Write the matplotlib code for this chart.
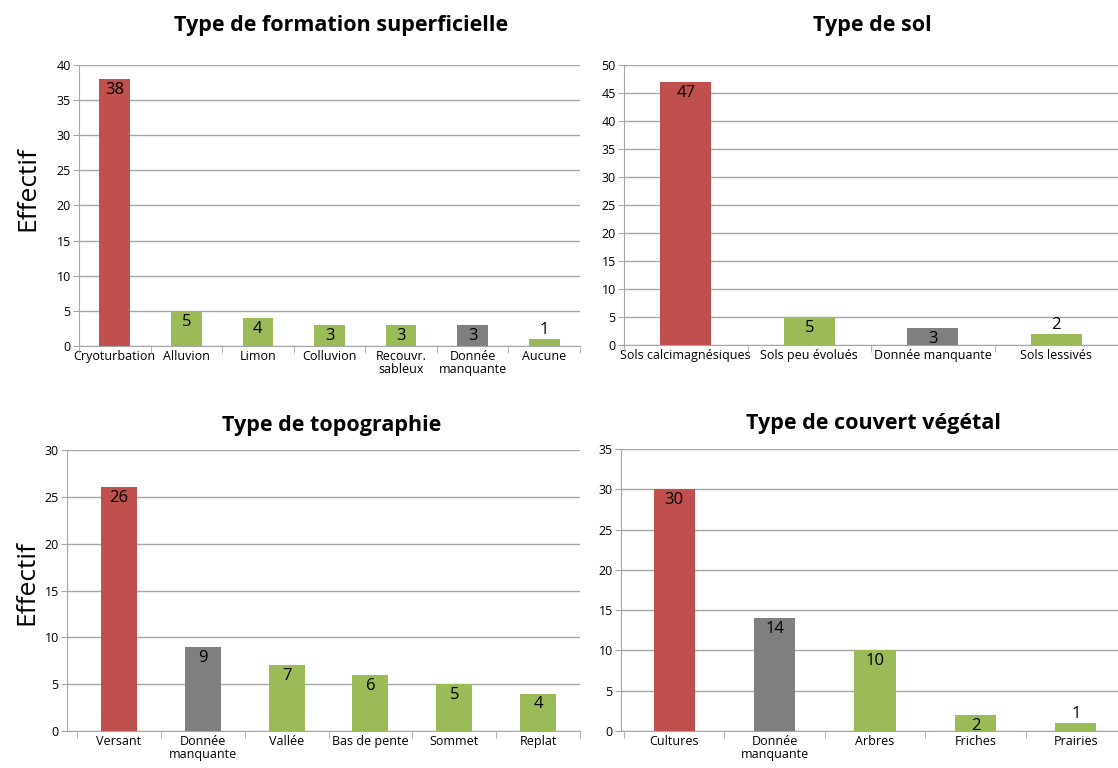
import numpy as np
import matplotlib.pyplot as plt

plt.rcParams['font.family'] = ['Open Sans', 'DejaVu Sans']

RED = "#C0504D"
GREEN = "#9BBB59"
GREY = "#7F7F7F"

# Type de formation superficielle
form_labels = ["Cryoturbation", "Alluvion", "Limon", "Colluvion", "Recouvr.\nsableux", "Donnée\nmanquante", "Aucune"]
form_values = [38, 5, 4, 3, 3, 3, 1]
form_colors = [RED, GREEN, GREEN, GREEN, GREEN, GREY, GREEN]

# Type de sol
sol_labels = ["Sols calcimagnésiques", "Sols peu évolués", "Donnée manquante", "Sols lessivés"]
sol_values = [47, 5, 3, 2]
sol_colors = [RED, GREEN, GREY, GREEN]

# Type de topographie
topo_labels = ["Versant", "Donnée\nmanquante", "Vallée", "Bas de pente", "Sommet", "Replat"]
topo_values = [26, 9, 7, 6, 5, 4]
topo_colors = [RED, GREY, GREEN, GREEN, GREEN, GREEN]

# Type de couvert végétal
couv_labels = ["Cultures", "Donnée\nmanquante", "Arbres", "Friches", "Prairies"]
couv_values = [30, 14, 10, 2, 1]
couv_colors = [RED, GREY, GREEN, GREEN, GREEN]

fig = plt.figure(figsize=(11.18, 7.68), dpi=100)
W, H = 1118, 768


def make_ax(l, t, r, b):
    return fig.add_axes([l / W, 1 - b / H, (r - l) / W, (b - t) / H])


def draw(ax, labels, values, colors, ymax, width, xleft=-0.5):
    x = np.arange(len(labels))
    ax.bar(x, values, width=width, color=colors, zorder=3)
    ax.set_xlim(xleft, len(labels) - 0.5)
    ax.set_ylim(0, ymax)
    ax.set_yticks(np.arange(0, ymax + 1, 5))
    ax.yaxis.grid(True, color="#A6A6A6", lw=1, zorder=0)
    ax.tick_params(axis="y", labelsize=9, length=4, color="#A6A6A6", pad=2)
    ax.set_xticks(x)
    ax.set_xticklabels(labels, fontsize=9, linespacing=0.95)
    ax.tick_params(axis="x", length=0, pad=3)
    ax.set_xticks(np.arange(-0.5, len(labels)), minor=True)
    ax.tick_params(axis="x", which="minor", length=5, color="#A6A6A6")
    for s in ["top", "right"]:
        ax.spines[s].set_visible(False)
    for s in ["left", "bottom"]:
        ax.spines[s].set_color("#A6A6A6")
    for xi, v in zip(x, values):
        if v / ymax < 0.05:
            ax.text(xi, v + ymax * 0.004, str(v), ha="center", va="bottom", fontsize=12)
        else:
            ax.text(xi, v - ymax * 0.01, str(v), ha="center", va="top", fontsize=12)


ax1 = make_ax(79, 65, 580, 346)
draw(ax1, form_labels, form_values, form_colors, 40, 0.43)
ax1.set_ylabel("Effectif", fontsize=19)
ax1.yaxis.set_label_coords(-0.078, 0.56)
fig.text(341 / W, 1 - 25 / H, "Type de formation superficielle", ha="center", va="center",
         fontsize=15.5, fontweight="bold")

ax2 = make_ax(624, 65, 1118, 345)
draw(ax2, sol_labels, sol_values, sol_colors, 50, 0.41)
fig.text(872 / W, 1 - 25 / H, "Type de sol", ha="center", va="center",
         fontsize=15.5, fontweight="bold")

ax3 = make_ax(67, 450, 580, 731)
draw(ax3, topo_labels, topo_values, topo_colors, 30, 0.43, xleft=-0.62)
ax3.set_ylabel("Effectif", fontsize=19)
ax3.yaxis.set_label_coords(-0.053, 0.53)
fig.text(332 / W, 1 - 425 / H, "Type de topographie", ha="center", va="center",
         fontsize=15.5, fontweight="bold")

ax4 = make_ax(621, 449, 1126, 731)
draw(ax4, couv_labels, couv_values, couv_colors, 35, 0.41, xleft=-0.53)
fig.text(874 / W, 1 - 424 / H, "Type de couvert végétal", ha="center", va="center",
         fontsize=15.5, fontweight="bold")

fig.savefig("out.png", dpi=100)
